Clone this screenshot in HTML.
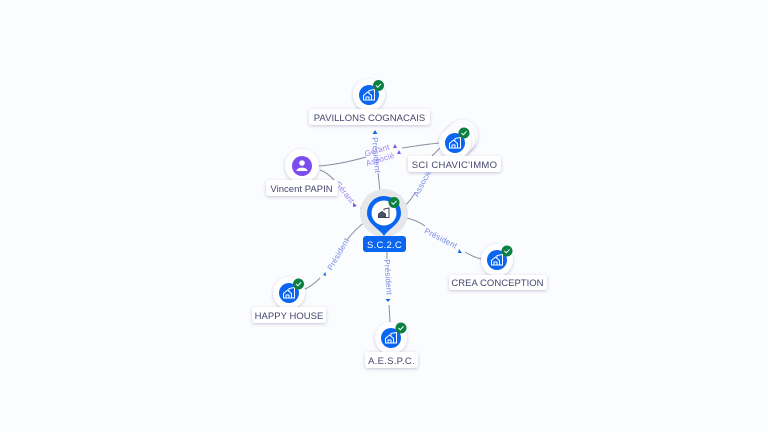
<!DOCTYPE html>
<html>
<head>
<meta charset="utf-8">
<style>
html,body{margin:0;padding:0;background:#fbfcfe;}
svg{display:block;}
.lbl{font:9.5px "Liberation Sans",sans-serif;fill:#45456f;text-anchor:middle;letter-spacing:.02px;}
.edge{font:8px "Liberation Sans",sans-serif;fill:#7589e6;text-anchor:middle;letter-spacing:.2px;}
.edgev{font:8px "Liberation Sans",sans-serif;fill:#9a86ea;text-anchor:middle;letter-spacing:.2px;}
.ln{fill:none;stroke:#8b8ba3;stroke-width:1;}
</style>
</head>
<body>
<svg width="768" height="432" viewBox="0 0 768 432" xmlns="http://www.w3.org/2000/svg">
<defs>
<filter id="s" x="-30%" y="-30%" width="160%" height="170%"><feDropShadow dx="0" dy="1" stdDeviation="1.5" flood-color="#4a4a80" flood-opacity=".3"/></filter>
<g id="badge"><circle r="5.5" fill="#0b8043"/><path d="M-2.5 0 L-.7 1.8 L2.500 -1.600" fill="none" stroke="#fff" stroke-width="1"/></g>
<g id="house" fill="none" stroke="#fff" stroke-width="1"><path d="M-5.500 5V.5L-1.500 -3L2.500 .5V5H-5.500Z"/><path d="M-3 5V2H0V5"/><path d="M0 -2.500V-4.500L5.500 -5.500V5H2.500"/></g>
<g id="node"><circle r="16" fill="#fff" filter="url(#s)"/><circle r="10" fill="#0a66f0"/><use href="#house"/></g>
</defs>
<rect width="768" height="432" fill="#fbfcfe"/>

<!-- connectors -->
<path class="ln" d="M380 193 C379.500 186 379 180 378 173"/>
<path class="ln" d="M318 166 C335 165 352 161 366 157"/>
<path class="ln" d="M402 148 C415 146 428 144 440 143"/>
<path class="ln" d="M320 170 C328 173 333 178 337 184"/>
<path class="ln" d="M360 208 C363 209 365 211 368 213"/>
<path class="ln" d="M403 208 C408 203 412 198 415 193"/>
<path class="ln" d="M432 156 C435 153 438 150 440 148"/>
<path class="ln" d="M400 217 C410 218 418 221 425 226"/>
<path class="ln" d="M465 252 C470 255 476 258 482 259"/>
<path class="ln" d="M368 220 C359 226 352 233 347 240"/>
<path class="ln" d="M320 278 C315 283 310 287 305 289"/>
<path class="ln" d="M387 252 L387 259"/>
<path class="ln" d="M389 305 L390 322"/>

<!-- arrowheads -->
<path d="M375 130 L377.500 134 L372.500 134 Z" fill="#1467e8"/>
<path d="M395 144 L397 148 L393 148 Z" fill="#7a55e8"/>
<path d="M399 150 L401 154 L397 154 Z" fill="#7a55e8"/>
<path d="M357 206 L353 202.500 L353 207 Z" fill="#7a55e8"/>
<path d="M462 253 L459 249 L458 253 Z" fill="#1467e8"/>
<path d="M323 275 L325.500 272 L326 276 Z" fill="#1467e8"/>
<path d="M388 302 L385.500 299 L390.500 299 Z" fill="#1467e8"/>

<!-- connector labels -->
<text class="edge" transform="translate(376.500 155) rotate(85)" y="3">Président</text>
<text class="edgev" transform="translate(377 150) rotate(-17)" y="3">Gérant</text>
<text class="edgev" transform="translate(380 159) rotate(-17)" y="3">Associé</text>
<text class="edge" transform="translate(422 183) rotate(-62)" y="3">Associé</text>
<text class="edgev" transform="translate(345 192) rotate(52)" y="3">Gérant</text>
<text class="edge" transform="translate(441 238) rotate(27)" y="3">Président</text>
<text class="edge" transform="translate(338 254) rotate(-60)" y="3">Président</text>
<text class="edge" transform="translate(388.500 277) rotate(86)" y="3">Président</text>

<!-- central node -->
<circle cx="384" cy="213" r="24" fill="#e6e7ea"/>
<path d="M384 236 C380 229 367 224 367 213 A17 17 0 1 1 401 213 C401 224 388 229 384 236 Z" fill="#0a66f0"/>
<circle cx="384" cy="213" r="12.500" fill="#fff"/>
<g transform="translate(384 213)" fill="none" stroke="#3c4458" stroke-width="1"><path d="M-5.500 4.500V1L-2 -1.500L1.500 1V4.500H-5.500Z" fill="#4a5266"/><path d="M0 -2.500V-4L5 -5V4.500H1.500"/></g>
<use href="#badge" x="394" y="202.500"/>
<rect x="363" y="236" width="43" height="16" rx="3" fill="#0a66f0"/>
<text x="384.500" y="248" font-family="Liberation Sans, sans-serif" font-size="9.500" fill="#fff" text-anchor="middle" letter-spacing=".25">S.C.2.C</text>

<!-- PAVILLONS -->
<use href="#node" x="369" y="95"/>
<use href="#badge" x="378.500" y="85.500"/>
<rect x="309" y="109" width="121" height="16" rx="3" fill="#fff" filter="url(#s)"/>
<text class="lbl" x="369.500" y="121">PAVILLONS COGNACAIS</text>

<!-- SCI -->
<circle cx="462" cy="136" r="16" fill="#fff" filter="url(#s)"/>
<circle cx="459" cy="139" r="16" fill="#fff" filter="url(#s)"/>
<use href="#node" x="455" y="143"/>
<use href="#badge" x="464" y="133"/>
<rect x="408" y="156" width="93" height="16" rx="3" fill="#fff" filter="url(#s)"/>
<text class="lbl" x="454.500" y="168" style="letter-spacing:.28px">SCI CHAVIC'IMMO</text>

<!-- Vincent -->
<circle cx="302" cy="166" r="17" fill="#fff" filter="url(#s)"/>
<circle cx="302" cy="166" r="10" fill="#7c4dee"/>
<circle cx="302" cy="163" r="2.800" fill="#fff"/>
<path d="M296.500 171 C296.500 166.500 307.500 166.500 307.500 171 Z" fill="#fff"/>
<rect x="266" y="180" width="72" height="16" rx="3" fill="#fff" filter="url(#s)"/>
<text class="lbl" x="301.500" y="192">Vincent PAPIN</text>

<!-- CREA -->
<use href="#node" x="497" y="260"/>
<use href="#badge" x="507" y="251"/>
<rect x="449" y="275" width="98" height="15" rx="3" fill="#fff" filter="url(#s)"/>
<text class="lbl" x="497.500" y="286">CREA CONCEPTION</text>

<!-- HAPPY -->
<use href="#node" x="289" y="293"/>
<use href="#badge" x="298.500" y="284"/>
<rect x="252" y="307" width="74" height="16" rx="3" fill="#fff" filter="url(#s)"/>
<text class="lbl" x="289" y="319">HAPPY HOUSE</text>

<!-- AESPC -->
<use href="#node" x="391" y="338"/>
<use href="#badge" x="401" y="328"/>
<rect x="365" y="352" width="53" height="16" rx="3" fill="#fff" filter="url(#s)"/>
<text class="lbl" x="391.500" y="364" style="letter-spacing:.25px">A.E.S.P.C.</text>
</svg>
</body>
</html>
